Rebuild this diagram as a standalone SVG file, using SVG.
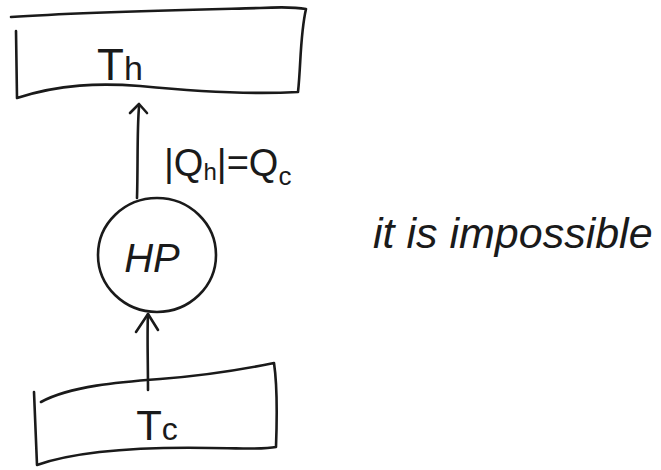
<svg xmlns="http://www.w3.org/2000/svg" width="661" height="470" viewBox="0 0 661 470">
<defs>
<style>
.ln{fill:none;stroke:#1a1a1a;stroke-width:2.6;stroke-linecap:round;stroke-linejoin:round}
.tx{font-family:"Liberation Sans","DejaVu Sans",sans-serif;fill:#1a1a1a}
</style>
</defs>
<rect width="661" height="470" fill="#fff"/>
<g id="hot-reservoir">
<path class="ln" d="M11,17 C80,12 180,10 260,8 C280,7 295,7 306,9 C300,35 301,65 298,92 C240,95 180,90 140,86 C100,83 60,84 17,98 L16,31"/>
<text class="tx" x="120" y="80" font-size="44" text-anchor="middle">T<tspan font-size="34">h</tspan></text>
</g>
<g id="heat-pump">
<ellipse class="ln" cx="157" cy="255" rx="59" ry="57"/>
<text class="tx" x="152" y="272" font-size="40" text-anchor="middle" font-style="italic">HP</text>
</g>
<g id="cold-reservoir">
<path class="ln" d="M34,392 L37,465 C80,450 150,447 210,448 C240,448 262,450 276,447 C277,420 278,390 274,363 C230,372 200,376 160,379 C120,382 70,386 41,402"/>
<text class="tx" x="157" y="440" font-size="42" text-anchor="middle">T<tspan font-size="32">c</tspan></text>
</g>
<g id="connectors">
<path class="ln" d="M137,198 C138,165 137,130 139,107"/>
<path class="ln" d="M130,113 L139,104 L147,113"/>
<path class="ln" d="M148,390 C148,360 147,335 148,314"/>
<path class="ln" d="M136,332 L148,314 L158,330"/>
</g>
<g id="label">
<text class="tx" x="164" y="176" font-size="38">|Q<tspan font-size="24" dy="4">h</tspan><tspan dy="-4">|=Q</tspan><tspan font-size="26" dy="9">c</tspan></text>
</g>
<g id="note">
<text class="tx" x="373" y="248" font-size="43" font-style="italic">it is impossible</text>
</g>
</svg>
